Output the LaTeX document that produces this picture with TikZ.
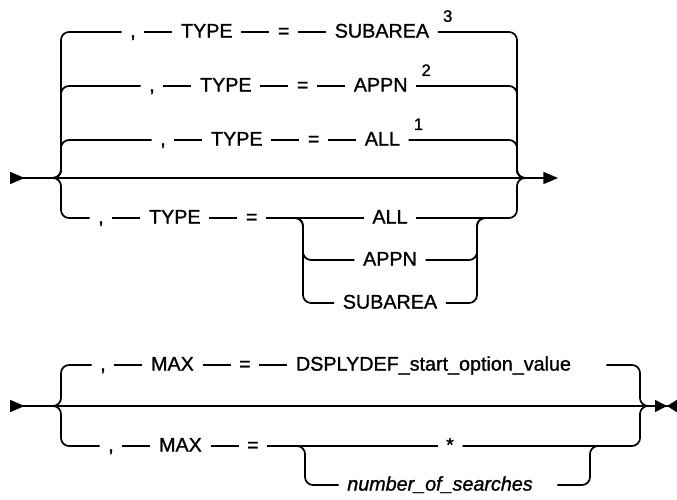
\documentclass[tikz,border=0pt]{standalone}
\usepackage{fontspec}
\setmainfont{Liberation Sans}
\newfontfamily\railfont[FakeBold=1.2]{Liberation Sans}
\usetikzlibrary{arrows.meta, positioning}

\begin{document}
\begin{tikzpicture}[
    x=0.75pt, y=-0.75pt,
    tok/.style={inner xsep=6.5pt, inner ysep=0pt, outer sep=0pt,
                text height=10.4pt, text depth=2pt,
                font=\railfont\fontsize{14.8pt}{17pt}\selectfont},
    vartok/.style={tok, font=\railfont\fontsize{14.8pt}{17pt}\selectfont\itshape},
    supnum/.style={inner sep=0pt, outer sep=0pt,
                   font=\railfont\fontsize{12.5pt}{15pt}\selectfont},
    rail/.style={line width=1.3pt, rounded corners=6pt},
    startend/.style={{Triangle[reversed, length=11pt, width=9pt]}-{Triangle[length=11pt, width=9pt]}},
    startstop/.style={{Triangle[reversed, length=11pt, width=9pt]}-{Triangle[length=9pt, width=9pt] Triangle[reversed, length=7.5pt, width=9pt]}}
  ]

  \useasboundingbox (0,0) rectangle (677,499);

  % Rail points, first diagram
  \coordinate (st1) at (10,178);
  \coordinate (en1) at (558,178);
  \coordinate (j1)  at (48,178);
  \coordinate (j2)  at (530,178);
  \coordinate (lb1) at (61,0);
  \coordinate (rb1) at (517,0);
  \coordinate (ilb1) at (303,0);
  \coordinate (irb1) at (477,0);
  \coordinate (ir1) at (490,218);

  % Nodes, first diagram
  \node[tok] (c1) at (133,32) {,};
  \node[tok, right=21pt of c1]  (ty1) {TYPE};
  \node[tok, right=21pt of ty1] (eq1) {=};
  \node[tok, right=21pt of eq1] (sa1) {SUBAREA};
  \node[supnum, above right=7.5pt and 4pt of sa1.east] (n3) {3};

  \node[tok] (c2) at (152,86) {,};
  \node[tok, right=21pt of c2]  (ty2) {TYPE};
  \node[tok, right=21pt of ty2] (eq2) {=};
  \node[tok, right=21pt of eq2] (ap2) {APPN};
  \node[supnum, above right=7.5pt and 4pt of ap2.east] (n2) {2};

  \node[tok] (c3) at (163,140) {,};
  \node[tok, right=21pt of c3]  (ty3) {TYPE};
  \node[tok, right=21pt of ty3] (eq3) {=};
  \node[tok, right=21pt of eq3] (al3) {ALL};
  \node[supnum, above right=7.5pt and 4pt of al3.east] (n1) {1};

  \node[tok] (c4) at (101,218) {,};
  \node[tok, right=21pt of c4]  (ty4) {TYPE};
  \node[tok, right=21pt of ty4] (eq4) {=};
  \node[tok] (al4) at (390,218) {ALL};
  \node[tok] (ap4) at (390,260) {APPN};
  \node[tok] (sb4) at (390,303) {SUBAREA};

  % Rails, first diagram
  \draw[rail, startend] (st1) -- (en1);

  \draw[rail] (j1) -| (lb1 |- c1) -- (c1);
  \draw[rail] (c1) -- (ty1);
  \draw[rail] (ty1) -- (eq1);
  \draw[rail] (eq1) -- (sa1);
  \draw[rail] (sa1) -| (rb1 |- j2) -- (j2);

  \draw[rail] (j1) -| (lb1 |- c2) -- (c2);
  \draw[rail] (c2) -- (ty2);
  \draw[rail] (ty2) -- (eq2);
  \draw[rail] (eq2) -- (ap2);
  \draw[rail] (ap2) -| (rb1 |- j2) -- (j2);

  \draw[rail] (j1) -| (lb1 |- c3) -- (c3);
  \draw[rail] (c3) -- (ty3);
  \draw[rail] (ty3) -- (eq3);
  \draw[rail] (eq3) -- (al3);
  \draw[rail] (al3) -| (rb1 |- j2) -- (j2);

  \draw[rail] (j1) -| (lb1 |- c4) -- (c4);
  \draw[rail] (c4) -- (ty4);
  \draw[rail] (ty4) -- (eq4);
  \draw[rail] (eq4) -- (al4);
  \draw[rail] (eq4) -| (ilb1 |- ap4) -- (ap4);
  \draw[rail] (eq4) -| (ilb1 |- sb4) -- (sb4);
  \draw[rail] (ap4) -| (irb1 |- al4) -- (ir1);
  \draw[rail] (sb4) -| (irb1 |- al4) -- (ir1);
  \draw[rail] (al4) -| (rb1 |- j2) -- (j2);

  % Rail points, second diagram
  \coordinate (st2) at (10,406);
  \coordinate (en2) at (677,406);
  \coordinate (j3)  at (48,406);
  \coordinate (j4)  at (650,406);
  \coordinate (lb2) at (61,0);
  \coordinate (rb2) at (640,0);
  \coordinate (ilb2) at (305,0);
  \coordinate (irb2) at (590,0);
  \coordinate (ir2) at (605,446);

  % Nodes, second diagram
  \node[tok] (m1) at (103,365) {,};
  \node[tok, right=21pt of m1]  (mx1) {MAX};
  \node[tok, right=21pt of mx1] (eq5) {=};
  \node[tok, right=21pt of eq5] (dv)  {DSPLYDEF\_start\_option\_value};

  \node[tok] (m2) at (111,446) {,};
  \node[tok, right=21pt of m2]  (mx2) {MAX};
  \node[tok, right=21pt of mx2] (eq6) {=};
  \node[tok] (ast) at (450,446) {*};
  \node[vartok] (ns) at (440,485) {number\_of\_searches};

  % Rails, second diagram
  \draw[rail, startstop] (st2) -- (en2);

  \draw[rail] (j3) -| (lb2 |- m1) -- (m1);
  \draw[rail] (m1) -- (mx1);
  \draw[rail] (mx1) -- (eq5);
  \draw[rail] (eq5) -- (dv);
  \draw[rail] ([xshift=20pt]dv.east) -| (rb2 |- j4) -- (j4);

  \draw[rail] (j3) -| (lb2 |- m2) -- (m2);
  \draw[rail] (m2) -- (mx2);
  \draw[rail] (mx2) -- (eq6);
  \draw[rail] (eq6) -- (ast);
  \draw[rail] (ast) -| (rb2 |- j4) -- (j4);
  \draw[rail] (eq6) -| (ilb2 |- ns) -- (ns);
  \draw[rail] ([xshift=12pt]ns.east) -| (irb2 |- ast) -- (ir2);
\end{tikzpicture}
\end{document}
